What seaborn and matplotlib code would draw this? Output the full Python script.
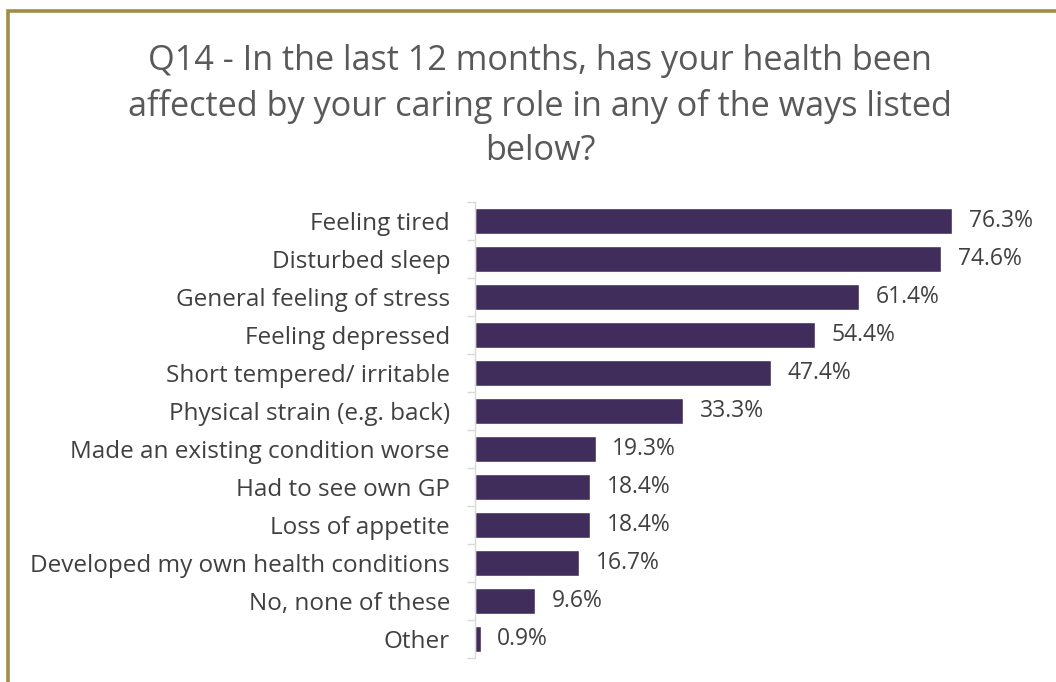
import matplotlib
matplotlib.use("Agg")
import matplotlib.pyplot as plt
import seaborn as sns
import pandas as pd
from matplotlib.patches import Rectangle
from matplotlib.ticker import FixedLocator

categories = [
    "Feeling tired",
    "Disturbed sleep",
    "General feeling of stress",
    "Feeling depressed",
    "Short tempered/ irritable",
    "Physical strain (e.g. back)",
    "Made an existing condition worse",
    "Had to see own GP",
    "Loss of appetite",
    "Developed my own health conditions",
    "No, none of these",
    "Other",
]
values = [76.3, 74.6, 61.4, 54.4, 47.4, 33.3, 19.3, 18.4, 18.4, 16.7, 9.6, 0.9]

title = ("Q14 - In the last 12 months, has your health been\n"
         "affected by your caring role in any of the ways listed\n"
         "below?")

sns.set_theme(style="white")
plt.rcParams["font.family"] = ["Open Sans", "DejaVu Sans"]

df = pd.DataFrame({"category": categories, "value": values})

W, H = 1056, 682
fig = plt.figure(figsize=(W / 100, H / 100), dpi=100)
fig.patch.set_facecolor("white")

# plot area in pixel terms
left, right = 475, 1040
top, bottom = 201.7, 658
ax = fig.add_axes([left / W, (H - bottom) / H, (right - left) / W, (bottom - top) / H])

sns.barplot(data=df, x="value", y="category", color="#412D5C", width=0.68,
            saturation=1, ax=ax, orient="h")
ax.set_xlim(0, (right - left) / 6.25)
ax.set_ylim(len(categories) - 0.5, -0.5)
ax.set_xlabel("")
ax.set_ylabel("")
ax.set_xticks([])

for s in ["top", "right", "bottom"]:
    ax.spines[s].set_visible(False)
ax.spines["left"].set_color("#D9D9D9")
ax.spines["left"].set_linewidth(1.0)

# category boundary ticks
ax.yaxis.set_minor_locator(FixedLocator([i - 0.5 for i in range(len(categories) + 1)]))
ax.tick_params(axis="y", which="major", length=0, pad=18, labelsize=17.5, labelcolor="#404040")
ax.tick_params(axis="y", which="minor", length=6, width=1.0, color="#D9D9D9", left=True)

for c in ax.containers:
    ax.bar_label(c, labels=[f"{v:.1f}%" for v in values], padding=12,
                 fontsize=16.5, color="#404040")

fig.text(540 / W, 1 - 44 / H, title, ha="center", va="top", fontsize=24.7,
         color="#595959", linespacing=1.4)

# outer frame
fig.patches.append(Rectangle((8 / W, -0.1), 1.2, (H - 11) / H + 0.1,
                             transform=fig.transFigure, fill=False,
                             edgecolor="#A08C48", linewidth=2.6))

fig.savefig("out.png", dpi=100, facecolor="white")
